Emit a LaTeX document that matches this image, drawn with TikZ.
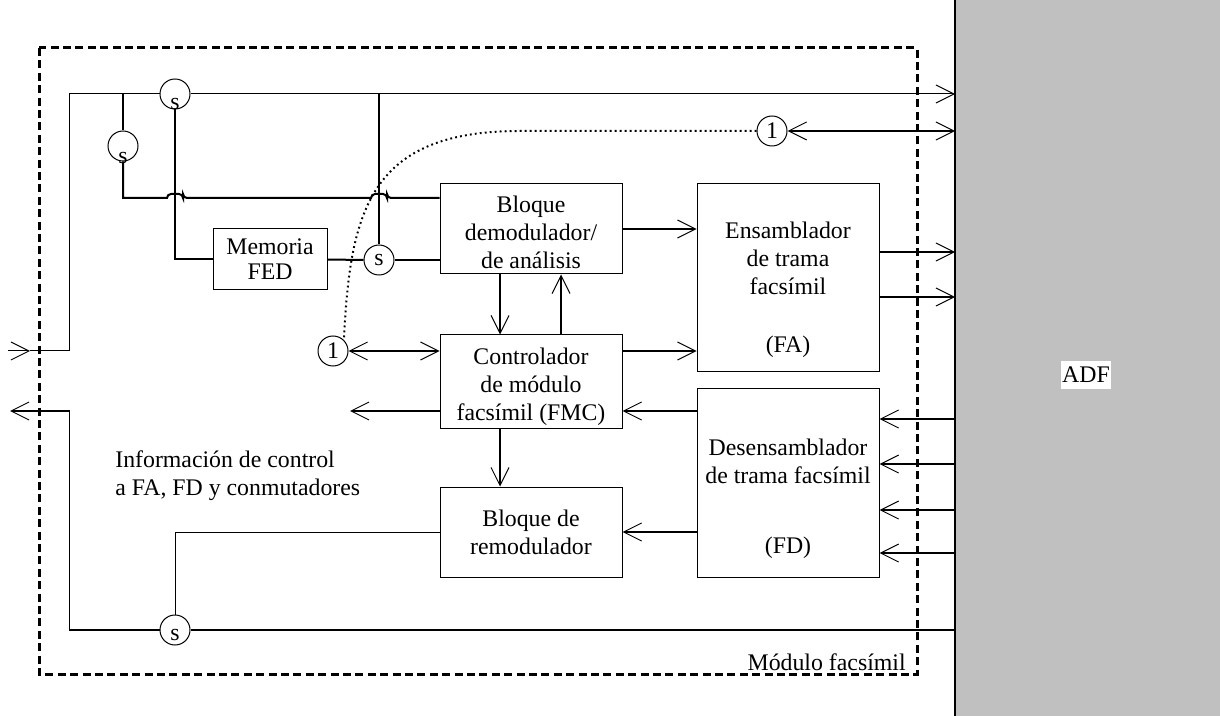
\documentclass[tikz,border=0pt]{standalone}
\usepackage{fontspec}
\setmainfont{Liberation Serif}
\usetikzlibrary{arrows.meta,positioning}
\definecolor{adfgray}{RGB}{192,192,192}
\tikzset{
  >={Straight Barb[length=9pt,width=9pt,line width=0.5pt]},
  every node/.style={font=\fontsize{11.9}{14}\selectfont},
  blk/.style={draw, line width=0.5pt, minimum width=91pt, align=center, inner xsep=1pt, inner ysep=0pt},
  sw/.style={draw, circle, fill=white, line width=0.5pt, minimum size=15pt, inner sep=0pt},
  ln/.style={line width=1pt},
  lnthin/.style={line width=0.5pt},
  dotln/.style={line width=1pt, dash pattern=on 0.9pt off 1.6pt},
  frame/.style={line width=1.5pt, dash pattern=on 4pt off 2.2pt}
}

\begin{document}
\begin{tikzpicture}[x=0.5pt,y=-0.5pt]
\useasboundingbox (0,0) rectangle (1220,716);
\node[fill=adfgray, inner sep=0pt, minimum width=132.5pt, minimum height=358pt, anchor=north west] (adfp) at (955,0) {};
\draw[ln] (adfp.north west) -- (adfp.south west);
\node[fill=white, inner xsep=0.5pt, inner ysep=0pt, minimum height=14pt] (adf) at (1086,375) {ADF};
\draw[frame] (39,48) rectangle (917,674);
\node[anchor=base east, inner sep=0pt] (modlbl) at (906,670) {Módulo facsímil};

\node[blk, minimum height=45pt] (demod) at (531,229) {\rule{0pt}{12pt}Bloque\\demodulador/\\de análisis};
\node[blk, minimum height=94pt] (ensam) at (788,278) {\rule{0pt}{20pt}Ensamblador\\de trama\\facsímil\\[15pt](FA)};
\node[blk, minimum height=46.5pt] (ctrl) at (531,381.5) {\rule{0pt}{14pt}Controlador\\de módulo\\facsímil (FMC)};
\node[blk, minimum height=94pt] (desens) at (788,483) {\rule{0pt}{24pt}Desensamblador\\de trama facsímil\\[21pt](FD)};
\node[blk, minimum height=45pt] (remod) at (531,532) {Bloque de\\remodulador};
\node[blk, minimum width=57pt, minimum height=30.5pt] (mem) at (270,259.5) {Memoria\\[-1.5pt]FED};

\node[sw, label={[yshift=-5pt]center:s}] (sTop) at (175,94) {};
\node[sw, label={[yshift=-6pt]center:s}] (sLeft) at (123,146) {};
\node[sw, label=center:s] (sMid) at (379,260) {};
\node[sw, label={[yshift=-2.5pt]center:s}] (sBot) at (175,630) {};
\node[sw] (uno1) at (333,351) {1};
\node[sw] (uno2) at (772,131) {1};

\node[anchor=west, align=left, inner sep=0pt] (info) at (115,476) {Información de control\\a FA, FD y conmutadores};

\coordinate (inL) at (8,351);
\coordinate (inTip) at (30,351);
\coordinate (outL) at (10,411);
\coordinate (busY) at (0,198);
\coordinate (fbY) at (0,411);
\coordinate (ctrlOut) at (350,411);

\draw[lnthin,->] (inL) -- (inTip);
\draw[lnthin] (inTip) -- (69,351) |- (sTop.west);
\draw[lnthin,->] (sTop.east) -- (adfp.west |- sTop);
\draw[ln] (sTop.south) |- (mem.west);
\draw[ln] (sLeft |- sTop) -- (sLeft.north);
\draw[ln] (sLeft.south) |- (167,198) [rounded corners=2pt] -- (167,194) -- (183,194) -- (183,198) [sharp corners] -- (371,198) [rounded corners=2pt] -- (371,194) -- (387,194) -- (387,198) [sharp corners] -- (demod.west |- busY);
\draw[ln] (sMid |- sTop) -- (sMid.north);
\draw[ln] (mem.east) -- (sMid.west);
\draw[ln] (sMid.east) -- (demod.west |- sMid);

\draw[ln,->] (demod.east) -- (ensam.west |- demod.east);
\draw[ln,->] (ctrl.east |- uno1) -- (ensam.west |- uno1);
\draw[ln,<->] (uno1.east) -- (ctrl.west |- uno1);
\draw[ln,->] ([xshift=-15.5pt]demod.south) -- ([xshift=-15.5pt]ctrl.north);
\draw[ln,->] ([xshift=15pt]ctrl.north) -- ([xshift=15pt]demod.south);
\draw[ln,->] ([xshift=-15.5pt]ctrl.south) -- ([xshift=-15.5pt]remod.north);
\draw[ln,->] (desens.west |- fbY) -- (ctrl.east |- fbY);
\draw[ln,->] (ctrl.west |- fbY) -- (ctrlOut);
\draw[ln,->] (desens.west |- remod) -- (remod.east);
\draw[lnthin] (remod.west) -| (sBot.north);
\draw[ln] (sBot.east) -- (adfp.west |- sBot);
\draw[ln] (sBot.west) -- (69,630);
\draw[lnthin,->] (69,630) |- (outL);

\draw[ln,<->] (uno2.east) -- (adfp.west |- uno2);
\foreach \dy in {13,-9.5} {
  \coordinate (q) at ([yshift=\dy pt]ensam.east);
  \draw[ln,->] (q) -- (adfp.west |- q);
}
\foreach \dy in {32,9.5,-13.5,-35} {
  \coordinate (q) at ([yshift=\dy pt]desens.east);
  \draw[ln,->] (adfp.west |- q) -- (q);
}

\draw[dotln] (uno2.west) -- (520,131) .. controls (370,131) and (350,210) .. (uno1.north east);
\end{tikzpicture}
\end{document}
